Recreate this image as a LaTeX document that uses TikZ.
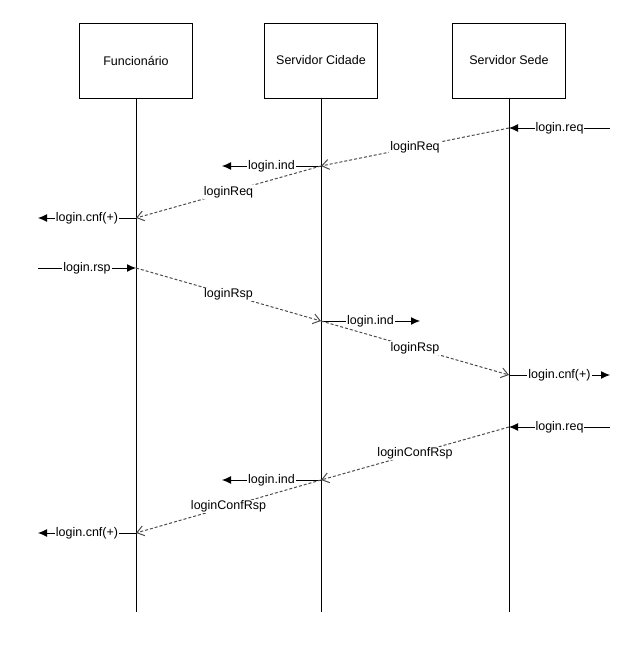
\documentclass[tikz,border=0pt]{standalone}
\usepackage{fontspec}
\setmainfont{Liberation Sans}
\usetikzlibrary{arrows.meta,positioning,calc}

\begin{document}
\begin{tikzpicture}[
    x=1pt, y=-1pt,
    font=\fontsize{12.5}{14}\selectfont,
    node distance=0pt and 71pt,
    actor/.style={draw, line width=1pt, minimum width=113pt, minimum height=75pt},
    lifeline/.style={line width=1pt},
    prim/.style={line width=1pt, -{Latex[length=9pt,width=8pt]}},
    pdu/.style={draw=gray!60!black, dash pattern=on 3pt off 2pt, line width=1pt, -{Straight Barb[length=7pt,width=10pt]}},
    lbl/.style={fill=white, inner sep=1pt}
]
\useasboundingbox (0,0) rectangle (625,648);
\node[actor] (fun) at (136,60.5) {Funcionário};
\node[actor, right=71pt of fun] (cid) {Servidor Cidade};
\node[actor, right=74pt of cid] (sede) {Servidor Sede};
\coordinate (funend) at (fun |- 0,612);
\coordinate (cidend) at (cid |- 0,612);
\coordinate (sedeend) at (sede |- 0,612);
\draw[lifeline] (fun.south) -- (funend);
\draw[lifeline] (cid.south) -- (cidend);
\draw[lifeline] (sede.south) -- (sedeend);
% request
\coordinate (in1) at (610,128);
\coordinate (sd1) at (sede |- 0,128);
\coordinate (cd1) at (cid |- 0,166);
\coordinate (ou1) at (222,166);
\coordinate (fn1) at (fun |- 0,218);
\coordinate (ou2) at (38,218);
\draw[prim] (in1) -- node[lbl] {login.req} (sd1);
\draw[pdu] (sd1) -- node[lbl] {loginReq} (cd1);
\draw[prim] (cd1) -- node[lbl] {login.ind} (ou1);
\draw[pdu] (cd1) -- node[lbl] {loginReq} (fn1);
\draw[prim] (fn1) -- node[lbl] {login.cnf(+)} (ou2);
% response
\coordinate (in2) at (38,268);
\coordinate (fn2) at (fun |- 0,268);
\coordinate (cd2) at (cid |- 0,321);
\coordinate (ou3) at (420,321);
\coordinate (sd2) at (sede |- 0,375);
\coordinate (ou4) at (610,375);
\draw[prim] (in2) -- node[lbl] {login.rsp} (fn2);
\draw[pdu] (fn2) -- node[lbl] {loginRsp} (cd2);
\draw[prim] (cd2) -- node[lbl] {login.ind} (ou3);
\draw[pdu] (cd2) -- node[lbl] {loginRsp} (sd2);
\draw[prim] (sd2) -- node[lbl] {login.cnf(+)} (ou4);
% confirmation
\coordinate (in3) at (610,427);
\coordinate (sd3) at (sede |- 0,427);
\coordinate (cd3) at (cid |- 0,480);
\coordinate (ou5) at (222,480);
\coordinate (fn3) at (fun |- 0,533);
\coordinate (ou6) at (38,533);
\draw[prim] (in3) -- node[lbl] {login.req} (sd3);
\draw[pdu] (sd3) -- node[lbl] {loginConfRsp} (cd3);
\draw[prim] (cd3) -- node[lbl] {login.ind} (ou5);
\draw[pdu] (cd3) -- node[lbl] {loginConfRsp} (fn3);
\draw[prim] (fn3) -- node[lbl] {login.cnf(+)} (ou6);
\end{tikzpicture}
\end{document}
